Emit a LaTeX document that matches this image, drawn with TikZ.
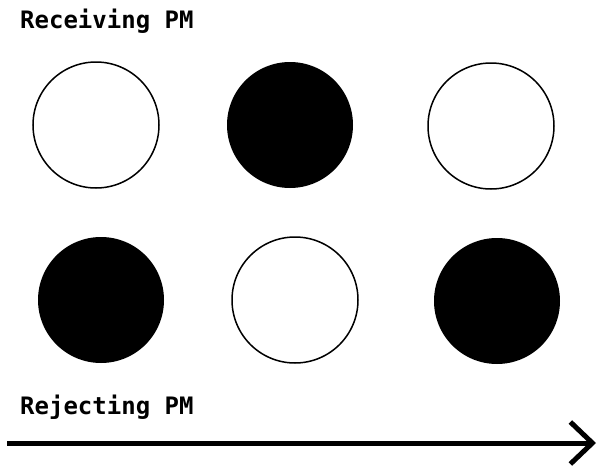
\documentclass[tikz,border=0pt]{standalone}
\usepackage{fontspec}
\setmonofont{DejaVu Sans Mono}
\usetikzlibrary{arrows.meta}
\tikzset{
  pm/.style={circle,minimum size=126pt,inner sep=0pt,line width=1.5pt},
  pmon/.style={pm,fill=black},
  pmoff/.style={pm,draw=black,fill=white},
  axlabel/.style={anchor=base west,inner sep=0pt,font=\ttfamily\bfseries\fontsize{24}{24}\selectfont}
}
\begin{document}
\begin{tikzpicture}[x=1pt,y=-1pt]
  \useasboundingbox (0,0) rectangle (598,466);
  % top row and bottom row of dots
  \node[pmoff] (t1) at (96,125) {};
  \node[pmon]  (t2) at (290,125) {};
  \node[pmoff] (t3) at (491,126) {};
  \node[pmon]  (b1) at (101,300) {};
  \node[pmoff] (b2) at (295,300) {};
  \node[pmon]  (b3) at (497,301) {};
  \node[axlabel] (recv) at (20,28) {Receiving PM};
  \node[axlabel] (rej) at (20,414) {Rejecting PM};
  \coordinate (s) at (7,443);
  \coordinate (e) at (596,443);
  \draw[line width=5pt,-{Straight Barb[length=22pt,width=42pt,line width=5pt]}] (s) -- (e);
\end{tikzpicture}
\end{document}
